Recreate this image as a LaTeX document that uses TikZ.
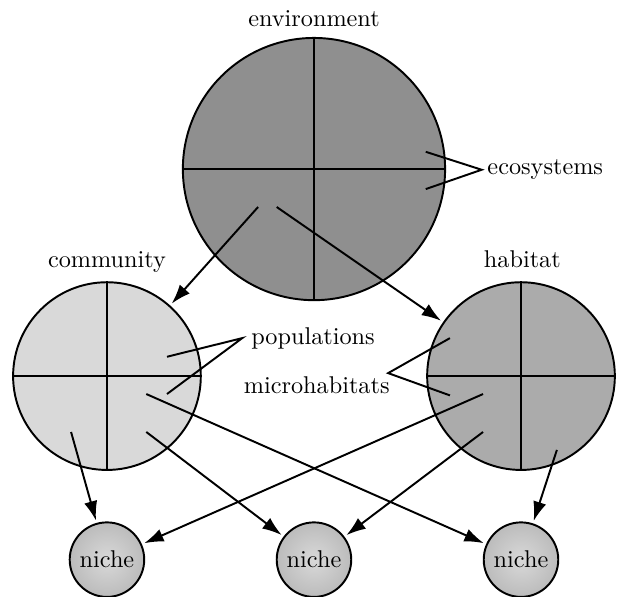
\documentclass[tikz,border=0pt]{standalone}
\usepackage{tikz}
\usetikzlibrary{positioning}
\usetikzlibrary{arrows.meta}

\pgfdeclareradialshading{nicheshade}{\pgfpoint{0bp}{0bp}}{%
  color(0bp)=(black!15); color(50bp)=(black!38); color(75bp)=(black!38)}

\begin{document}
\begin{tikzpicture}[thick,on grid,>={Latex[length=8pt,width=5.5pt]},
    sphere/.style={circle,draw,inner sep=0pt},
    niche/.style={circle,draw,inner sep=1pt,minimum size=1.08cm,shading=nicheshade}]
  \useasboundingbox (-4.55,-6.19) rectangle (4.42,2.45);

  \node[sphere,fill=black!44,minimum size=3.8cm]  (env)                              {};
  \node[sphere,fill=black!15,minimum size=2.72cm] (com) [below left=3cm and 3cm of env]  {};
  \node[sphere,fill=black!33,minimum size=2.72cm] (hab) [below right=3cm and 3cm of env] {};

  \node[niche] (n1) [below=2.66cm of com] {niche};
  \node[niche] (n2) [below=5.66cm of env] {niche};
  \node[niche] (n3) [below=2.66cm of hab] {niche};

  % quarters
  \draw (env.north) -- (env.south) (env.west) -- (env.east);
  \draw (com.north) -- (com.south) (com.west) -- (com.east);
  \draw (hab.north) -- (hab.south) (hab.west) -- (hab.east);

  % titles
  \node[anchor=base] (envlbl) at (0,2.07)     {environment};
  \node[anchor=base] (comlbl) at (-3,-1.42)   {community};
  \node[anchor=base] (hablbl) at (3.02,-1.42) {habitat};

  % pointers
  \node[anchor=west,inner sep=2pt] (eco) at (2.43,-0.01)  {ecosystems};
  \node[anchor=west]               (pop) at (-1.04,-2.45) {populations};
  \node[inner sep=1pt]           (micro) at (0.04,-3.13)  {microhabitats};

  \coordinate (eco1) at (1.62,0.25);
  \coordinate (eco2) at (1.62,-0.29);
  \coordinate (pop1) at (-2.13,-2.72);
  \coordinate (pop2) at (-2.13,-3.26);
  \coordinate (mh1)  at (1.97,-2.45);
  \coordinate (mh2)  at (1.97,-3.28);

  \draw (eco1) -- (eco.west) -- (eco2);
  \draw (pop1) -- (pop.west) -- (pop2);
  \draw (mh1) -- ([xshift=-2pt]micro.north east) -- (mh2);

  \coordinate (env-com) at (-0.81,-0.55);
  \coordinate (env-hab) at (-0.54,-0.55);
  \coordinate (com-n1)  at (-3.52,-3.81);
  \coordinate (com-n2)  at (-2.43,-3.81);
  \coordinate (com-n3)  at (-2.43,-3.26);
  \coordinate (hab-n1)  at (2.45,-3.26);
  \coordinate (hab-n2)  at (2.45,-3.81);
  \coordinate (hab-n3)  at (3.52,-4.07);

  \path[->,shorten >=1pt]
        (env-com) edge (com)
        (env-hab) edge (hab)
        (com-n1)  edge (n1)
        (com-n2)  edge (n2)
        (com-n3)  edge (n3)
        (hab-n1)  edge (n1)
        (hab-n2)  edge (n2)
        (hab-n3)  edge (n3);
\end{tikzpicture}
\end{document}
